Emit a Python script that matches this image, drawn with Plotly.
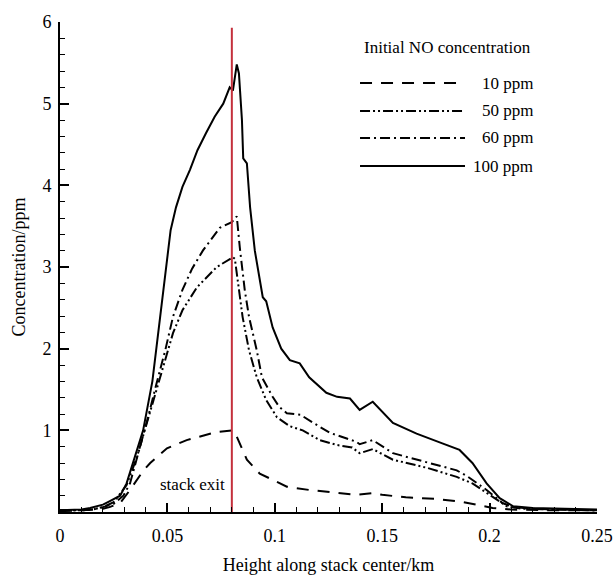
import plotly.graph_objects as go

# ---- data ----
x_100 = [0, 0.01, 0.014, 0.02, 0.023, 0.028, 0.031, 0.034, 0.0387, 0.043, 0.0465, 0.0485, 0.0498, 0.0515,
         0.054, 0.057, 0.0605, 0.064, 0.068, 0.072, 0.076, 0.079, 0.0805, 0.0823, 0.0833, 0.0847, 0.0853,
         0.087, 0.0885, 0.0895, 0.0907, 0.0944, 0.096, 0.099, 0.103, 0.107, 0.1116, 0.116, 0.12, 0.124,
         0.129, 0.135, 0.1395, 0.1456, 0.155, 0.166, 0.178, 0.186, 0.192, 0.1986, 0.2047, 0.211, 0.22,
         0.235, 0.25]
y_100 = [0.02, 0.03, 0.05, 0.09, 0.13, 0.2, 0.35, 0.6, 1.0, 1.6, 2.35, 2.8, 3.1, 3.45,
         3.73, 3.98, 4.19, 4.43, 4.64, 4.84, 5.0, 5.2, 5.16, 5.48, 5.37, 4.8, 4.33,
         4.27, 3.73, 3.49, 3.2, 2.63, 2.58, 2.26, 2.0, 1.86, 1.82, 1.65, 1.55, 1.46,
         1.41, 1.39, 1.25, 1.35, 1.09, 0.96, 0.84, 0.76, 0.6, 0.35, 0.17, 0.07, 0.05,
         0.04, 0.03]

x_60 = [0, 0.01, 0.015, 0.02, 0.025, 0.0295, 0.0326, 0.037, 0.041, 0.045, 0.049, 0.0526, 0.057, 0.0615,
        0.0665, 0.0744, 0.08, 0.0823, 0.0837, 0.086, 0.088, 0.0916, 0.094, 0.099, 0.102, 0.1056, 0.112,
        0.118, 0.1256, 0.1335, 0.138, 0.1395, 0.1456, 0.155, 0.171, 0.1847, 0.19, 0.1986, 0.206, 0.211,
        0.22, 0.235, 0.25]
y_60 = [0.02, 0.02, 0.03, 0.06, 0.1, 0.2, 0.35, 0.76, 1.16, 1.58, 1.98, 2.39, 2.72, 2.98,
        3.2, 3.48, 3.55, 3.62, 3.24, 2.72, 2.39, 1.98, 1.65, 1.41, 1.29, 1.21, 1.19,
        1.09, 0.97, 0.9, 0.86, 0.83, 0.88, 0.72, 0.61, 0.51, 0.43, 0.27, 0.11, 0.06,
        0.04, 0.03, 0.02]

x_50 = [0, 0.01, 0.015, 0.02, 0.025, 0.031, 0.0358, 0.0405, 0.045, 0.049, 0.0526, 0.057, 0.0637, 0.073,
        0.078, 0.0805, 0.0814, 0.083, 0.085, 0.088, 0.0916, 0.096, 0.101, 0.107, 0.113, 0.121, 0.129,
        0.136, 0.1395, 0.1456, 0.155, 0.171, 0.1847, 0.192, 0.2, 0.208, 0.215, 0.23, 0.25]
y_50 = [0.02, 0.02, 0.03, 0.06, 0.12, 0.33, 0.67, 1.09, 1.49, 1.86, 2.19, 2.47, 2.75, 3.0,
        3.08, 3.12, 3.1, 2.8, 2.39, 1.98, 1.65, 1.37, 1.16, 1.05, 1.0, 0.88, 0.82,
        0.79, 0.72, 0.77, 0.64, 0.54, 0.43, 0.35, 0.21, 0.07, 0.04, 0.03, 0.02]

x_10 = [0, 0.01, 0.02, 0.023, 0.028, 0.0326, 0.0386, 0.042, 0.0498, 0.059, 0.073, 0.0805, 0.082, 0.085,
        0.087, 0.093, 0.0977, 0.1056, 0.116, 0.127, 0.138, 0.1456, 0.15, 0.161, 0.175, 0.186, 0.197,
        0.2014, 0.21, 0.23, 0.25]
y_10 = [0.01, 0.02, 0.04, 0.06, 0.11, 0.27, 0.5, 0.6, 0.78, 0.88, 0.98, 1.0, 0.94, 0.76,
        0.64, 0.47, 0.41, 0.31, 0.27, 0.24, 0.21, 0.23, 0.21, 0.18, 0.16, 0.13, 0.07,
        0.05, 0.03, 0.02, 0.02]

stack_exit_x = 0.08
stack_exit_line_y = [0, 5.93]

series_names = ["10 ppm", "50 ppm", "60 ppm", "100 ppm"]
x_ticks = [0, 0.05, 0.1, 0.15, 0.2, 0.25]
x_tick_labels = ["0", "0.05", "0.1", "0.15", "0.2", "0.25"]
y_ticks = [0, 1, 2, 3, 4, 5, 6]
y_tick_labels = ["", "1", "2", "3", "4", "5", "6"]

FONT = "Liberation Serif, Times New Roman, serif"
BLACK = "black"
dashes = ["12px,9px", "10px,3px,2px,3px,2px,3px", "10px,4px,2px,4px", "solid"]
series = [(x_10, y_10), (x_50, y_50), (x_60, y_60), (x_100, y_100)]

fig = go.Figure()
for (xs, ys), name, d in zip(series, series_names, dashes):
    fig.add_trace(go.Scatter(x=xs, y=ys, mode="lines", name=name,
                             line=dict(color=BLACK, width=2, dash=d), showlegend=False))

fig.add_trace(go.Scatter(x=[stack_exit_x, stack_exit_x], y=stack_exit_line_y, mode="lines",
                         line=dict(color="#c4303c", width=2), showlegend=False, hoverinfo="skip"))

fig.add_annotation(x=stack_exit_x, y=0.34, xref="x", yref="y", text="stack exit", showarrow=False,
                   xanchor="right", xshift=-5, font=dict(family=FONT, size=17, color=BLACK))

# custom legend
fig.add_annotation(x=0.7207, y=0.947, xref="paper", yref="paper", text="Initial NO concentration",
                   showarrow=False, xanchor="center", yanchor="middle",
                   font=dict(family=FONT, size=17, color=BLACK))
rows = [0.8755, 0.8184, 0.7633, 0.7061]
for name, d, ry in zip(series_names, dashes, rows):
    fig.add_shape(type="line", xref="paper", yref="paper", x0=0.5587, x1=0.7542, y0=ry, y1=ry,
                  line=dict(color=BLACK, width=2, dash=d))
    fig.add_annotation(x=0.8845, y=ry, xref="paper", yref="paper", text=name, showarrow=False,
                       xanchor="right", yanchor="middle", font=dict(family=FONT, size=17, color=BLACK))

fig.update_layout(
    width=615, height=575,
    margin=dict(l=60, r=18, t=22, b=63, autoexpand=False),
    paper_bgcolor="white", plot_bgcolor="white",
    font=dict(family=FONT, size=18, color=BLACK),
    showlegend=False,
)
fig.update_xaxes(range=[0, 0.25], tickvals=x_ticks, ticktext=x_tick_labels, automargin=False,
                 ticks="inside", ticklen=9, tickwidth=2, tickcolor=BLACK,
                 minor=dict(ticks="inside", ticklen=5, tickwidth=1, dtick=0.01, tickcolor=BLACK),
                 showline=True, linewidth=2, linecolor=BLACK, showgrid=False, zeroline=False,
                 tickfont=dict(family=FONT, size=18, color=BLACK), ticklabelstandoff=6,
                 title=dict(text="Height along stack center/km", font=dict(family=FONT, size=18, color=BLACK),
                            standoff=14))
fig.update_yaxes(range=[0, 6], tickvals=y_ticks, ticktext=y_tick_labels, automargin=False,
                 ticks="inside", ticklen=9, tickwidth=2, tickcolor=BLACK,
                 minor=dict(ticks="inside", ticklen=5, tickwidth=1, dtick=0.2, tickcolor=BLACK),
                 showline=True, linewidth=2, linecolor=BLACK, showgrid=False, zeroline=False,
                 tickfont=dict(family=FONT, size=18, color=BLACK), ticklabelstandoff=3,
                 title=dict(text="Concentration/ppm", font=dict(family=FONT, size=18, color=BLACK),
                            standoff=12))

# remove the browser's default 8px body margin so the figure sits at the window origin
fig.write_html("out.html", config={"displayModeBar": False},
               post_script="document.body.style.margin='0';document.body.style.overflow='hidden';")
